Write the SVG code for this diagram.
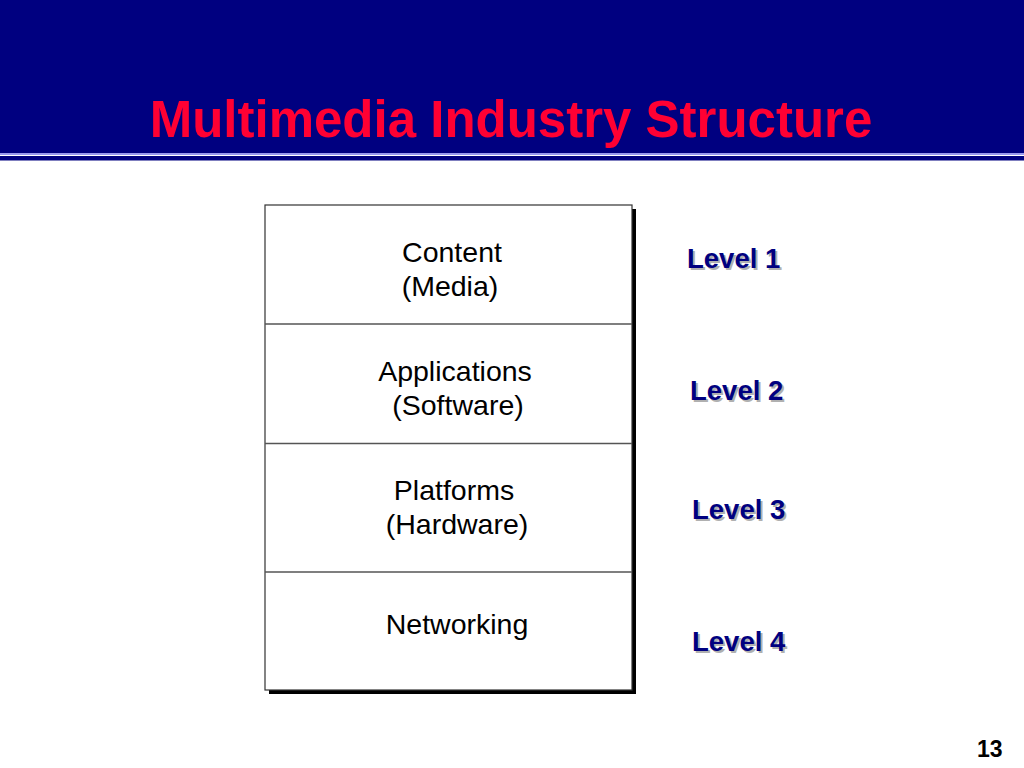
<svg xmlns="http://www.w3.org/2000/svg" width="1024" height="768" viewBox="0 0 1024 768">
<style>
.title{font-family:"Liberation Sans",Arial,sans-serif;font-weight:bold;font-size:51px;fill:#ff0033}
.lbl{font-family:"Liberation Sans",Arial,sans-serif;font-size:28.5px;fill:#000;text-anchor:middle}
.lvl{font-family:"Liberation Sans",Arial,sans-serif;font-weight:bold;font-size:27.5px;fill:#000080}
.lvls{font-family:"Liberation Sans",Arial,sans-serif;font-weight:bold;font-size:27.5px;fill:#b0b0b0}
.num{font-family:"Liberation Sans",Arial,sans-serif;font-weight:bold;font-size:23px;fill:#000}
.div{stroke:#555;stroke-width:1.5}
</style>
<rect width="1024" height="768" fill="#ffffff"/>
<g id="header">
<rect x="0" y="0" width="1024" height="153" fill="#000080"/>
<rect x="0" y="153" width="1024" height="2" fill="#9999ee"/>
<rect x="0" y="156" width="1024" height="4.5" fill="#000080"/>
<text class="title" x="511" y="137" text-anchor="middle">Multimedia Industry Structure</text>
</g>
<g id="stack">
<rect x="269" y="209" width="367" height="485" fill="#000"/>
<rect x="265" y="205" width="367" height="485" fill="#fff" stroke="#333" stroke-width="1.2"/>
</g>
<g id="connectors">
<line class="div" x1="265" y1="324" x2="632" y2="324"/>
<line class="div" x1="265" y1="443.5" x2="632" y2="443.5"/>
<line class="div" x1="265" y1="572" x2="632" y2="572"/>
</g>
<g id="content"><text class="lbl" x="452" y="262">Content</text><text class="lbl" x="450" y="296">(Media)</text></g>
<g id="applications"><text class="lbl" x="455" y="381">Applications</text><text class="lbl" x="458" y="415">(Software)</text></g>
<g id="platforms"><text class="lbl" x="454" y="500">Platforms</text><text class="lbl" x="457" y="534">(Hardware)</text></g>
<g id="networking"><text class="lbl" x="457" y="634">Networking</text></g>
<g id="level1"><text class="lvls" x="689" y="270">Level 1</text><text class="lvl" x="687" y="268">Level 1</text></g>
<g id="level2"><text class="lvls" x="692" y="402">Level 2</text><text class="lvl" x="690" y="400">Level 2</text></g>
<g id="level3"><text class="lvls" x="694" y="521">Level 3</text><text class="lvl" x="692" y="519">Level 3</text></g>
<g id="level4"><text class="lvls" x="694" y="653">Level 4</text><text class="lvl" x="692" y="651">Level 4</text></g>
<g id="page"><text class="num" x="977" y="757">13</text></g>
</svg>
